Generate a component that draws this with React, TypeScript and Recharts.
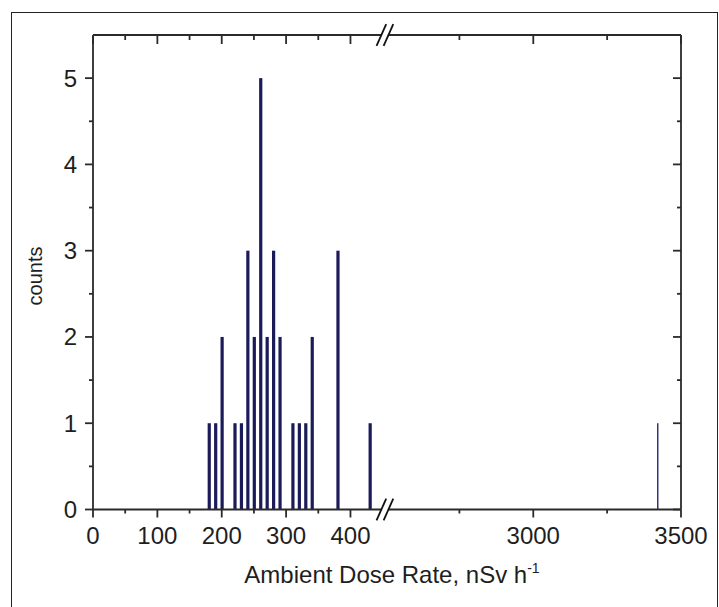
import React from "react";
import { ComposedChart, Bar, Line, XAxis, YAxis, ReferenceLine } from "recharts";

// dose rate bins (nSv/h) and their counts
const doseRates = [180, 190, 200, 220, 230, 240, 250, 260, 270, 280, 290, 310, 320, 330, 340, 380, 430, 3420];
const counts = [1, 1, 2, 1, 1, 3, 2, 5, 2, 3, 2, 1, 1, 1, 2, 3, 1, 1];

const xMajorTicks = [0, 100, 200, 300, 400, 3000, 3500];
const xMinorTicks = [50, 150, 250, 350, 2750, 3250];
const yMajorTicks = [0, 1, 2, 3, 4, 5];
const yMinorTicks = [0.5, 1.5, 2.5, 3.5, 4.5];

// broken x axis: 0-450 kept as is, the high part squeezed onto the right half
const LOW_MAX = 450;
const U_3000 = 684;
const HIGH_SCALE = 0.459;
const U_MAX = U_3000 + 500 * HIGH_SCALE;
const BREAK_L = 448;
const BREAK_R = 459;
const Y_MAX = 5.5;

const toAxis = (v: number) => (v <= LOW_MAX ? v : U_3000 + (v - 3000) * HIGH_SCALE);

const data = doseRates.map((v, i) => ({ u: toAxis(v), rate: v, count: counts[i] }));

const xTicks = [...xMajorTicks, ...xMinorTicks].map(toAxis).sort((a, b) => a - b);
const xLabels = new Map(xMajorTicks.map((v) => [toAxis(v), String(v)]));
const yTicks = [...yMajorTicks, ...yMinorTicks].sort((a, b) => a - b);

const AXIS = "#2a2a2a";
const TEXT = "#1e1e1e";
const BAR = "#1b1b5a";
const FONT = "'Liberation Sans', Arial, sans-serif";
const LW = 1.8;

function BottomTick(props: any) {
  const { x, y, payload } = props;
  const label = xLabels.get(payload.value);
  return (
    <g>
      <line x1={x} x2={x} y1={y} y2={y + (label ? 8 : 4)} stroke={AXIS} strokeWidth={LW} />
      {label && (
        <text x={x} y={y + 34} textAnchor="middle" fontSize={24} fill={TEXT} fontFamily={FONT}>
          {label}
        </text>
      )}
    </g>
  );
}

// top axis sits 1px above the plot, ticks point down into it
function TopTick(props: any) {
  const { x, y, payload } = props;
  const major = xLabels.has(payload.value);
  return <line x1={x} x2={x} y1={y + 1} y2={y + 1 + (major ? 8 : 4)} stroke={AXIS} strokeWidth={LW} />;
}

function LeftTick(props: any) {
  const { x, y, payload } = props;
  const major = Number.isInteger(payload.value);
  return (
    <g>
      <line x1={x - (major ? 8 : 4)} x2={x} y1={y} y2={y} stroke={AXIS} strokeWidth={LW} />
      {major && (
        <text x={x - 16} y={y + 8.5} textAnchor="end" fontSize={24} fill={TEXT} fontFamily={FONT}>
          {payload.value}
        </text>
      )}
    </g>
  );
}

// right axis box is 1px wide, ticks point left into the plot
function RightTick(props: any) {
  const { x, y, payload } = props;
  const major = Number.isInteger(payload.value);
  return <line x1={x - (major ? 8 : 4)} x2={x} y1={y} y2={y} stroke={AXIS} strokeWidth={LW} />;
}

function BarShape(props: any) {
  const { x, y, width, height, payload } = props;
  if (!height || height <= 0) return null;
  // the lone high reading is drawn as a hairline
  if (payload.rate > LOW_MAX) {
    return <rect x={x + width / 2 - 0.75} y={y} width={1.5} height={height} fill="#34347a" />;
  }
  return <rect x={x} y={y} width={width} height={height} fill={BAR} />;
}

function XTitle(props: any) {
  const vb = props.viewBox ?? { x: 93, y: 509.5, width: 588, height: 60 };
  return (
    <text x={vb.x + vb.width / 2 + 5} y={vb.y + 73.5} textAnchor="middle" fontSize={24} fill={TEXT} fontFamily={FONT}>
      <tspan>Ambient Dose Rate, nSv h</tspan>
      <tspan dy={-10} fontSize={14}>-1</tspan>
    </text>
  );
}

function YTitle() {
  return (
    <text
      x={35}
      y={276}
      transform="rotate(-90, 35, 276)"
      textAnchor="middle"
      dominantBaseline="central"
      fontSize={20}
      fill={TEXT}
      fontFamily={FONT}
    >
      counts
    </text>
  );
}

// axis pieces either side of the break, and the two slashes
const axisPieces = [
  { x1: 0, x2: BREAK_L, y: 0 },
  { x1: BREAK_R, x2: U_MAX, y: 0 },
  { x1: 0, x2: BREAK_L, y: Y_MAX },
  { x1: BREAK_R, x2: U_MAX, y: Y_MAX },
];
const slashes = [BREAK_L, BREAK_R].flatMap((u) => [
  { u, y: 0 },
  { u, y: Y_MAX },
]);

export default function App() {
  return (
    <div
      style={{
        position: "absolute",
        left: 0,
        top: 0,
        width: 719,
        height: 607,
        overflow: "hidden",
        background: "#fff",
      }}
    >
      <div
        style={{
          position: "absolute",
          left: 11,
          top: 12,
          width: 705,
          height: 640,
          border: "1px solid #222",
        }}
      />
      <div style={{ position: "absolute", left: 0, top: 0 }}>
        <ComposedChart width={719} height={607} data={data} margin={{ top: 34, right: 37, bottom: 37.5, left: 33 }}>
          <XAxis
            dataKey="u"
            type="number"
            domain={[0, U_MAX]}
            ticks={xTicks}
            interval={0}
            axisLine={false}
            tickLine={false}
            tickSize={0}
            tickMargin={0}
            height={60}
            tick={<BottomTick />}
            label={<XTitle />}
          />
          <XAxis
            xAxisId="top"
            orientation="top"
            dataKey="u"
            type="number"
            domain={[0, U_MAX]}
            ticks={xTicks}
            interval={0}
            axisLine={false}
            tickLine={false}
            tickSize={0}
            tickMargin={0}
            height={1}
            tick={<TopTick />}
          />
          <YAxis
            type="number"
            domain={[0, Y_MAX]}
            ticks={yTicks}
            interval={0}
            width={60}
            axisLine={{ stroke: AXIS, strokeWidth: LW }}
            tickLine={false}
            tickSize={0}
            tickMargin={0}
            tick={<LeftTick />}
            label={<YTitle />}
          />
          <YAxis
            yAxisId="right"
            orientation="right"
            type="number"
            domain={[0, Y_MAX]}
            ticks={yTicks}
            interval={0}
            width={1}
            axisLine={{ stroke: AXIS, strokeWidth: LW }}
            tickLine={false}
            tickSize={0}
            tickMargin={0}
            tick={<RightTick />}
          />
          <Bar dataKey="count" barSize={3.2} shape={<BarShape />} isAnimationActive={false} />
          {/* invisible series so the top and right frame axes get drawn */}
          <Line
            xAxisId="top"
            yAxisId="right"
            dataKey="count"
            stroke="none"
            dot={false}
            activeDot={false}
            legendType="none"
            isAnimationActive={false}
          />
          {axisPieces.map((p, i) => (
            <ReferenceLine
              key={`axis-${i}`}
              segment={[
                { x: p.x1, y: p.y },
                { x: p.x2, y: p.y },
              ]}
              stroke={AXIS}
              strokeWidth={LW}
              ifOverflow="visible"
            />
          ))}
          {slashes.map((s, i) => (
            <ReferenceLine
              key={`slash-${i}`}
              segment={[
                { x: s.u - 7.5, y: s.y - 0.125 },
                { x: s.u + 7.5, y: s.y + 0.125 },
              ]}
              stroke="#111"
              strokeWidth={LW}
              ifOverflow="visible"
            />
          ))}
        </ComposedChart>
      </div>
    </div>
  );
}
